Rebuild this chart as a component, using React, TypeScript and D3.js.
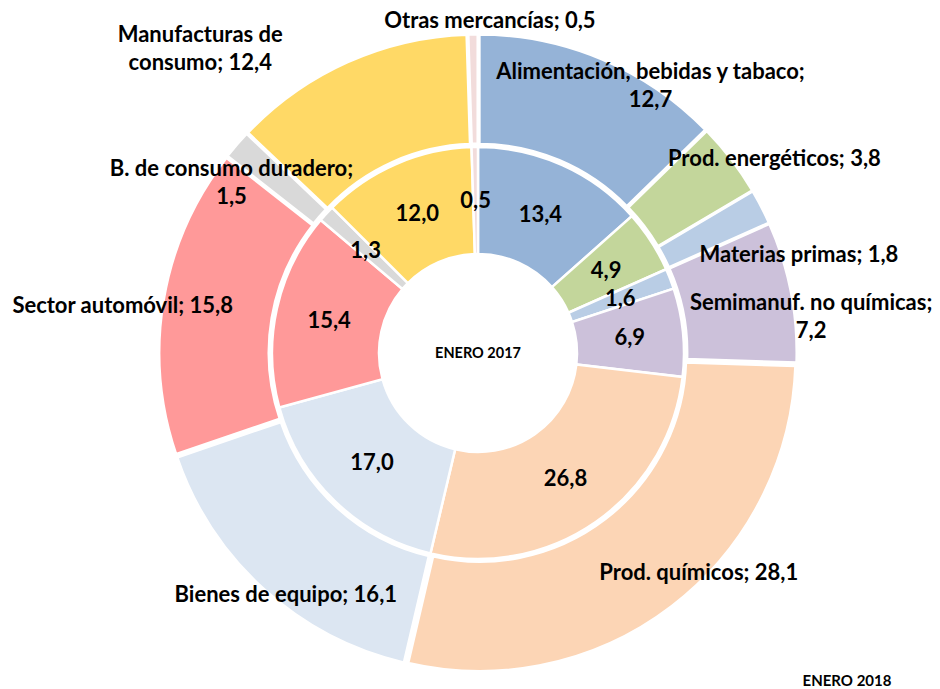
import * as d3 from 'd3';
import React from 'react';

// sectores, en el orden de las agujas del reloj empezando arriba
const categories = [
  'Alimentación, bebidas y tabaco',
  'Prod. energéticos',
  'Materias primas',
  'Semimanuf. no químicas',
  'Prod. químicos',
  'Bienes de equipo',
  'Sector automóvil',
  'B. de consumo duradero',
  'Manufacturas de consumo',
  'Otras mercancías',
];
const enero2018 = [12.7, 3.8, 1.8, 7.2, 28.1, 16.1, 15.8, 1.5, 12.4, 0.5];
const enero2017 = [13.4, 4.9, 1.6, 6.9, 26.8, 17.0, 15.4, 1.3, 12.0, 0.5];
const innerTitle = 'ENERO 2017';
const outerTitle = 'ENERO 2018';

const colors = [
  '#95b3d7', '#c3d69b', '#b9cde5', '#ccc1da', '#fcd5b5',
  '#dce6f2', '#ff9999', '#d9d9d9', '#ffd966', '#f2dcdb',
];

// words in first line of the outer label (0 = one line)
const wrapAfter = [4, 0, 0, 3, 0, 0, 0, 4, 2, 0];
// manual shift of the outer labels from the slice centroid
const labelShift: [number, number][] = [
  [71, -27], [89, -36], [89, 21], [77, 13], [62, 12],
  [-17, 48], [-98, -4], [-49, 0], [-171, -67], [16, -72],
];

const width = 940;
const height = 689;
const cx = 478;
const cy = 353;
const font = 'Lato, "Liberation Sans", sans-serif';

const fmt = (v: number) => d3.format('.1f')(v).replace('.', ',');

function App() {
  const pie = d3.pie<number>().sort(null).startAngle(0).endAngle(2 * Math.PI);
  const innerArc = d3.arc<d3.PieArcDatum<number>>().innerRadius(99).outerRadius(206);
  const outerArc = d3.arc<d3.PieArcDatum<number>>().innerRadius(206).outerRadius(316);
  const explode = 3;

  const inner = pie(enero2017);
  const outer = pie(enero2018);

  return (
    <svg width={width} height={height} style={{ position: 'absolute', left: 0, top: 0, background: '#fff' }}>
      <g transform={`translate(${cx},${cy})`}>
        {inner.map((d, i) => (
          <path key={'i' + i} d={innerArc(d) || ''} fill={colors[i]} stroke="#fff" strokeWidth={2.5} />
        ))}
        {outer.map((d, i) => {
          const a = (d.startAngle + d.endAngle) / 2;
          const ox = Math.sin(a) * explode;
          const oy = -Math.cos(a) * explode;
          return (
            <path key={'o' + i} transform={`translate(${ox},${oy})`} d={outerArc(d) || ''}
              fill={colors[i]} stroke="#fff" strokeWidth={3} />
          );
        })}
        {inner.map((d, i) => {
          const [x, y] = innerArc.centroid(d);
          return (
            <text key={'li' + i} x={x} y={y} dy="0.35em" textAnchor="middle"
              fontFamily={font} fontWeight="bold" fontSize={22} fill="#000">
              {fmt(enero2017[i])}
            </text>
          );
        })}
        {outer.map((d, i) => {
          const [x0, y0] = outerArc.centroid(d);
          const x = x0 + labelShift[i][0];
          const y = y0 + labelShift[i][1];
          const words = `${categories[i]}; ${fmt(enero2018[i])}`.split(' ');
          const lines = wrapAfter[i]
            ? [words.slice(0, wrapAfter[i]).join(' '), words.slice(wrapAfter[i]).join(' ')]
            : [words.join(' ')];
          const lh = 28;
          const top = y - ((lines.length - 1) * lh) / 2;
          return (
            <text key={'lo' + i} textAnchor="middle" fontFamily={font} fontWeight="bold"
              fontSize={22} fill="#000">
              {lines.map((l, k) => (
                <tspan key={k} x={x} y={top + k * lh} dy="0.35em">{l}</tspan>
              ))}
            </text>
          );
        })}
        <text x={0} y={0} dy="0.35em" textAnchor="middle" fontFamily={font} fontWeight="bold" fontSize={14.5}>
          {innerTitle}
        </text>
      </g>
      <text x={847} y={681} dy="0.35em" textAnchor="middle" fontFamily={font} fontWeight="bold" fontSize={15}>
        {outerTitle}
      </text>
    </svg>
  );
}

export default App;
